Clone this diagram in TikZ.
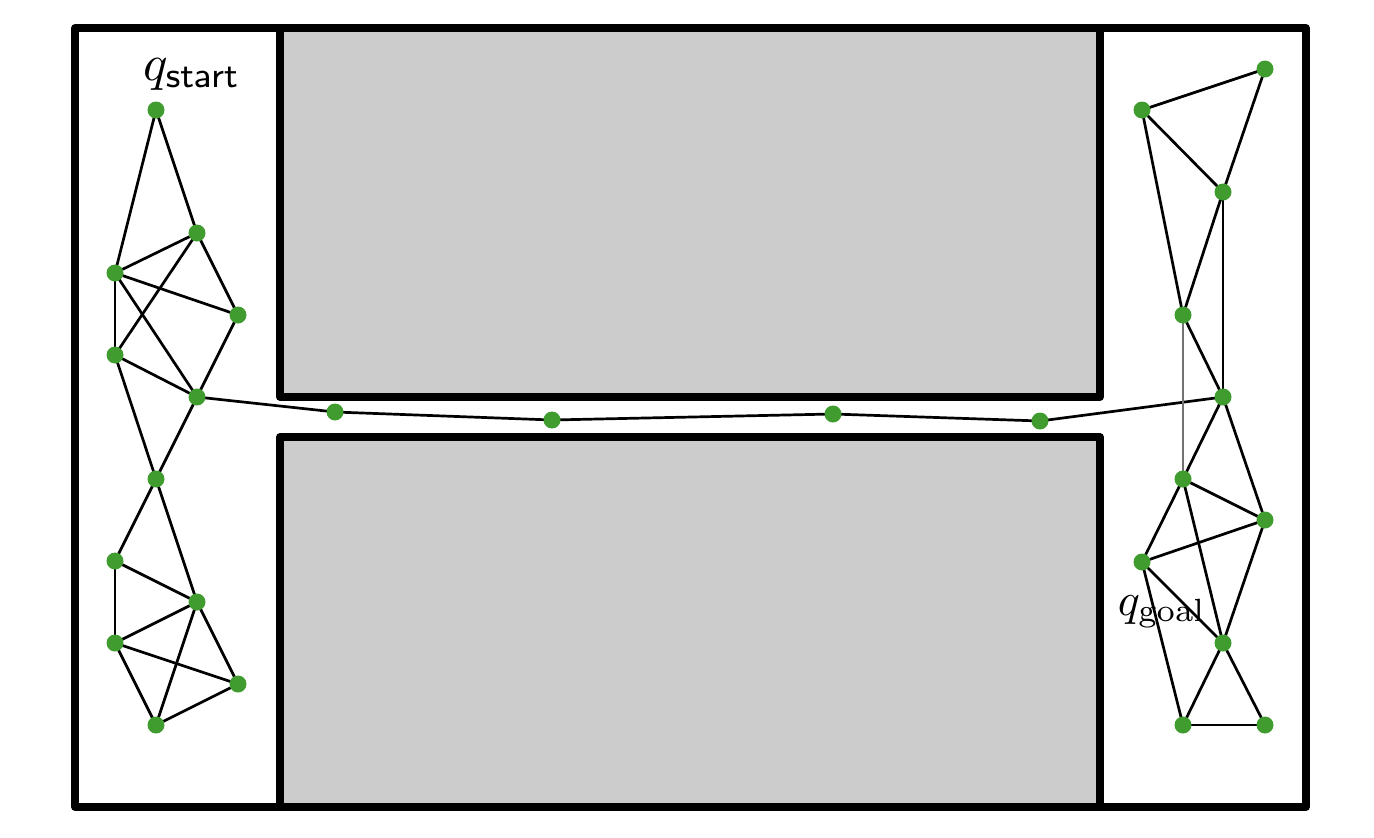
\documentclass[tikz,border=0pt]{standalone}
\usetikzlibrary{backgrounds}
\pgfdeclarelayer{edgelayer}
\pgfsetlayers{background,edgelayer,main}
\definecolor{dotgreen}{RGB}{64,156,46}
\definecolor{obsgray}{RGB}{204,204,204}
\tikzset{
  dot/.style={circle,fill=dotgreen,draw=none,minimum size=17pt,inner sep=0pt},
  edge/.style={line width=2.7pt,black},
  grayedge/.style={line width=2.7pt,black!55},
  wall/.style={line width=7.5pt,line join=round,black},
  obstacle/.style={wall,fill=obsgray},
  lbl/.style={inner sep=0pt,scale=5.1}
}
\begin{document}
\begin{tikzpicture}[x=1pt,y=-1pt]
\useasboundingbox (0,0) rectangle (1374,838);
% left graph
\node[dot] (L1) at (156,110) {};
\node[dot] (L2) at (197,233) {};
\node[dot] (L3) at (115,273) {};
\node[dot] (L4) at (238,315) {};
\node[dot] (L5) at (115,355) {};
\node[dot] (L6) at (197,397) {};
\node[dot] (L7) at (156,479) {};
\node[dot] (L8) at (115,561) {};
\node[dot] (L9) at (197,602) {};
\node[dot] (L10) at (115,643) {};
\node[dot] (L11) at (238,684) {};
\node[dot] (L12) at (156,725) {};
% passage
\node[dot] (P1) at (335,412) {};
\node[dot] (P2) at (552,420) {};
\node[dot] (P3) at (833,414) {};
\node[dot] (P4) at (1040,421) {};
% right graph
\node[dot] (R1) at (1265,69) {};
\node[dot] (R2) at (1142,110) {};
\node[dot] (R3) at (1223,192) {};
\node[dot] (R4) at (1183,315) {};
\node[dot] (R5) at (1223,397) {};
\node[dot] (R6) at (1183,479) {};
\node[dot] (R7) at (1265,520) {};
\node[dot] (R8) at (1142,562) {};
\node[dot] (R9) at (1223,643) {};
\node[dot] (R10) at (1183,725) {};
\node[dot] (R11) at (1265,725) {};
% labels
\node[lbl,anchor=base west] (qs) at (142,80) {$q_{\mathsf{start}}$};
\node[lbl,scale=0.9,anchor=base west] (qg) at (1117,615) {$q_{\mathrm{goal}}$};
% obstacles and frame
\begin{pgfonlayer}{background}
\draw[obstacle] (280,28) rectangle (1100,397);
\draw[obstacle] (280,437) rectangle (1100,807);
\draw[wall] (75,28) rectangle (1306,807);
\end{pgfonlayer}
% edges
\begin{pgfonlayer}{edgelayer}
\foreach \a/\b in {L1/L3,L1/L2,L2/L3,L2/L5,L2/L4,L3/L4,L3/L5,L3/L6,L5/L6,L4/L6,L5/L7,L6/L7,
  L7/L8,L7/L9,L8/L9,L8/L10,L9/L10,L9/L12,L9/L11,L10/L11,L10/L12,L11/L12,
  L6/P1,P1/P2,P2/P3,P3/P4,P4/R5,
  R1/R2,R1/R3,R2/R3,R2/R4,R3/R4,R3/R5,R4/R5,R5/R6,R5/R7,R6/R7,R6/R8,R6/R9,
  R8/R7,R8/R9,R8/R10,R7/R9,R9/R10,R9/R11,R10/R11}
  \draw[edge] (\a.center) -- (\b.center);
\draw[grayedge] (R4.center) -- (R6.center);
\end{pgfonlayer}
\end{tikzpicture}
\end{document}
